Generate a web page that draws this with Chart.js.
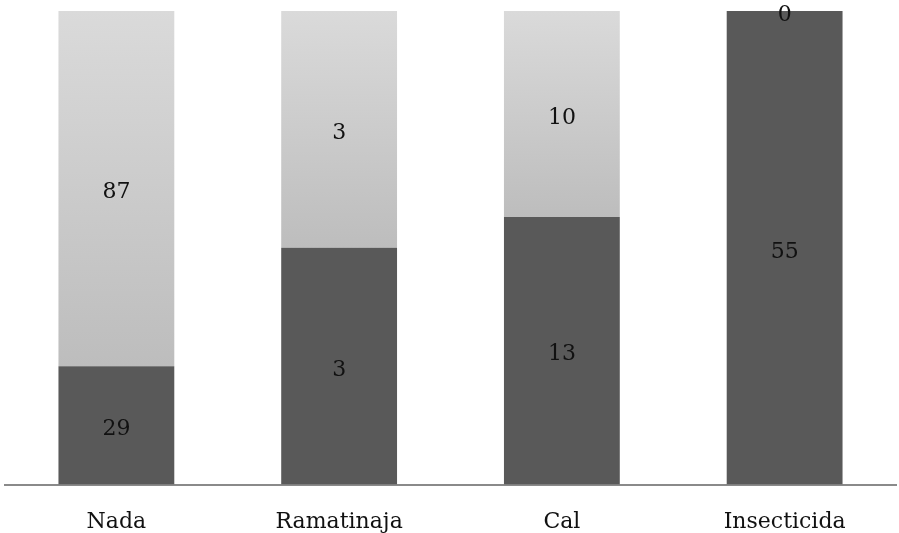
<!DOCTYPE html>
<html><head><meta charset="utf-8">
<script src="https://cdn.jsdelivr.net/npm/chart.js@4"></script>
<style>html,body{margin:0;padding:0;background:#fff}#wrap{width:899px;height:533px}</style>
</head><body><div id="wrap"><canvas id="c" width="899" height="533"></canvas></div>
<script>
const categories = ["Nada", "Ramatinaja", "Cal", "Insecticida"];
const darkValues = [29, 3, 13, 55];
const lightValues = [87, 3, 10, 0];

const totals = categories.map((_, i) => darkValues[i] + lightValues[i]);
const darkPct = darkValues.map((v, i) => v / totals[i] * 100);
const lightPct = lightValues.map((v, i) => v / totals[i] * 100);
const rawByDataset = [darkValues, lightValues];

const FONT = "'DejaVu Serif', serif";

const labelPlugin = {
  id: 'valueLabels',
  afterDatasetsDraw(chart) {
    const ctx = chart.ctx;
    ctx.save();
    ctx.font = "22px " + FONT;
    ctx.fillStyle = '#111';
    ctx.textAlign = 'center';
    ctx.textBaseline = 'middle';
    chart.data.datasets.forEach((ds, di) => {
      const meta = chart.getDatasetMeta(di);
      meta.data.forEach((bar, i) => {
        const yc = (bar.y + bar.base) / 2;
        ctx.fillText(String(rawByDataset[di][i]), bar.x, yc + 4);
      });
    });
    ctx.restore();
  }
};

function lightGradient(context) {
  const chart = context.chart;
  if (!chart.chartArea || !chart.scales.y) return '#cfcfcf';
  const i = context.dataIndex;
  const y = chart.scales.y;
  const top = y.getPixelForValue(100);
  const bot = y.getPixelForValue(darkPct[i] === undefined ? 0 : darkPct[i]);
  if (!isFinite(top) || !isFinite(bot) || bot - top < 1) return '#d9d9d9';
  const g = chart.ctx.createLinearGradient(0, top, 0, bot);
  g.addColorStop(0, '#dadada');
  g.addColorStop(1, '#bdbdbd');
  return g;
}

new Chart(document.getElementById('c'), {
  type: 'bar',
  data: {
    labels: categories,
    datasets: [
      { data: darkPct, backgroundColor: '#595959', borderWidth: 0 },
      { data: lightPct, backgroundColor: lightGradient, borderWidth: 0 }
    ]
  },
  options: {
    responsive: false,
    animation: false,
    layout: { padding: { left: 5, right: 3, top: 11, bottom: -26 } },
    plugins: { legend: { display: false }, tooltip: { enabled: false } },
    datasets: { bar: { categoryPercentage: 1, barPercentage: 0.52 } },
    scales: {
      x: {
        stacked: true,
        grid: { display: false, drawTicks: false },
        border: { display: true, color: '#8a8a8a', width: 2 },
        ticks: { color: '#111', font: { family: FONT, size: 22 }, padding: 24 }
      },
      y: {
        stacked: true, min: 0, max: 100, display: false
      }
    }
  },
  plugins: [labelPlugin]
});
</script>
</body></html>
